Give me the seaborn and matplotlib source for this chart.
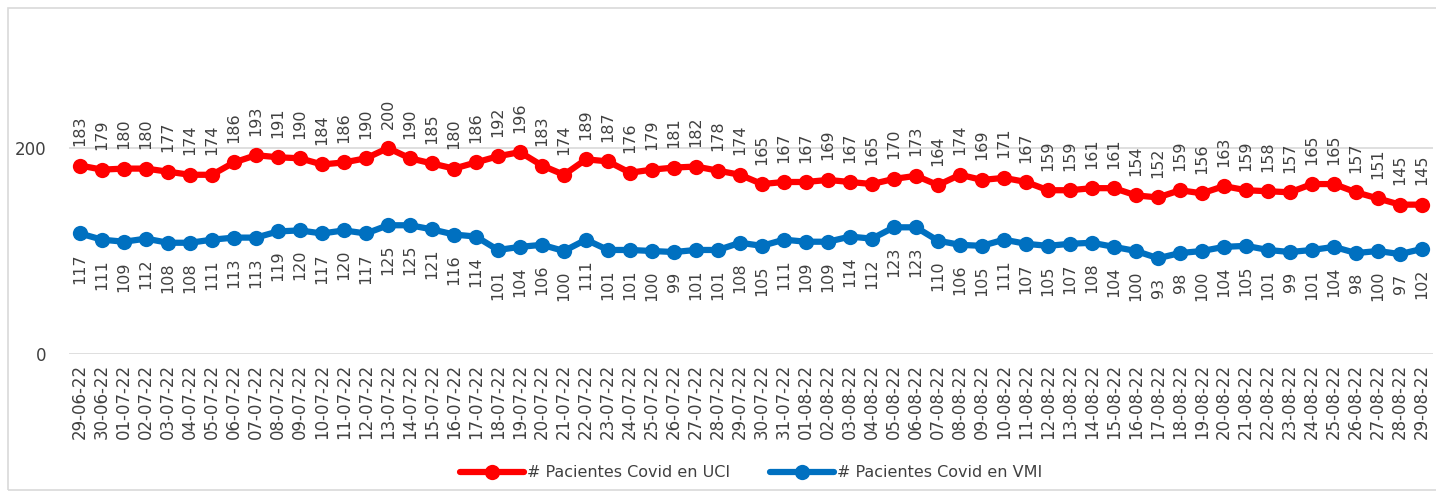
import pandas as pd
import numpy as np
import matplotlib
matplotlib.use('Agg')
import matplotlib.pyplot as plt
import seaborn as sns
from matplotlib.patches import Rectangle

# data
fechas = pd.date_range('2022-06-29', '2022-08-29', freq='D').strftime('%d-%m-%y').tolist()

uci = [183, 179, 180, 180, 177, 174, 174, 186, 193, 191, 190, 184, 186, 190, 200, 190,
       185, 180, 186, 192, 196, 183, 174, 189, 187, 176, 179, 181, 182, 178, 174, 165,
       167, 167, 169, 167, 165, 170, 173, 164, 174, 169, 171, 167, 159, 159, 161, 161,
       154, 152, 159, 156, 163, 159, 158, 157, 165, 165, 157, 151, 145, 145]

vmi = [117, 111, 109, 112, 108, 108, 111, 113, 113, 119, 120, 117, 120, 117, 125, 125,
       121, 116, 114, 101, 104, 106, 100, 111, 101, 101, 100, 99, 101, 101, 108, 105,
       111, 109, 109, 114, 112, 123, 123, 110, 106, 105, 111, 107, 105, 107, 108, 104,
       100, 93, 98, 100, 104, 105, 101, 99, 101, 104, 98, 100, 97, 102]

series_names = ['# Pacientes Covid en UCI', '# Pacientes Covid en VMI']
colores = ['#FF0000', '#0070C0']

df = pd.DataFrame({'idx': range(len(fechas)), 'fecha': fechas,
                   series_names[0]: uci, series_names[1]: vmi})
long = df.melt(id_vars=['idx', 'fecha'], value_vars=series_names,
               var_name='serie', value_name='pacientes')

sns.set_style('white')
plt.rcParams['font.family'] = ['DejaVu Sans']

fig = plt.figure(figsize=(14.36, 4.94), dpi=100)
ax = fig.add_axes([69 / 1436, 1 - 354 / 494, (1433 - 69) / 1436, 309 / 494])

sns.lineplot(data=long, x='idx', y='pacientes', hue='serie', palette=colores,
             marker='o', markersize=11, linewidth=4.5, markeredgewidth=0,
             ax=ax, legend=True)

gris = '#404040'
for i, v in enumerate(uci):
    ax.annotate(str(v), (i, v), xytext=(0, 14), textcoords='offset points',
                rotation=90, ha='center', va='bottom', fontsize=11.5, color=gris)
for i, v in enumerate(vmi):
    ax.annotate(str(v), (i, v), xytext=(0, -14), textcoords='offset points',
                rotation=90, ha='center', va='top', fontsize=11.5, color=gris)

ax.set_xlim(-0.5, len(fechas) - 0.5)
ax.set_ylim(0, 300)
ax.set_yticks([0, 200])
ax.set_xticks(range(len(fechas)))
ax.set_xticklabels(fechas, rotation=90, fontsize=12, color=gris)
ax.tick_params(axis='y', labelsize=12, labelcolor=gris, length=0, pad=16)
ax.tick_params(axis='x', length=0, pad=7)
ax.grid(axis='y', color='#D9D9D9', linewidth=1.2)
ax.set_axisbelow(True)
for s in ax.spines.values():
    s.set_visible(False)
ax.set_xlabel('')
ax.set_ylabel('')

handles, labels = ax.get_legend_handles_labels()
ax.legend(handles, labels, loc='center', bbox_to_anchor=(0.5, -0.385), ncol=2,
          frameon=False, fontsize=11.5, handlelength=4, columnspacing=2.5,
          handletextpad=0.2)
for t in ax.get_legend().get_texts():
    t.set_color(gris)

fig.patches.append(Rectangle((8 / 1436, 4 / 494), 1440 / 1436, 482 / 494,
                             transform=fig.transFigure, fill=False,
                             edgecolor='#D9D9D9', linewidth=1.2))

fig.savefig('out.png', dpi=100)
